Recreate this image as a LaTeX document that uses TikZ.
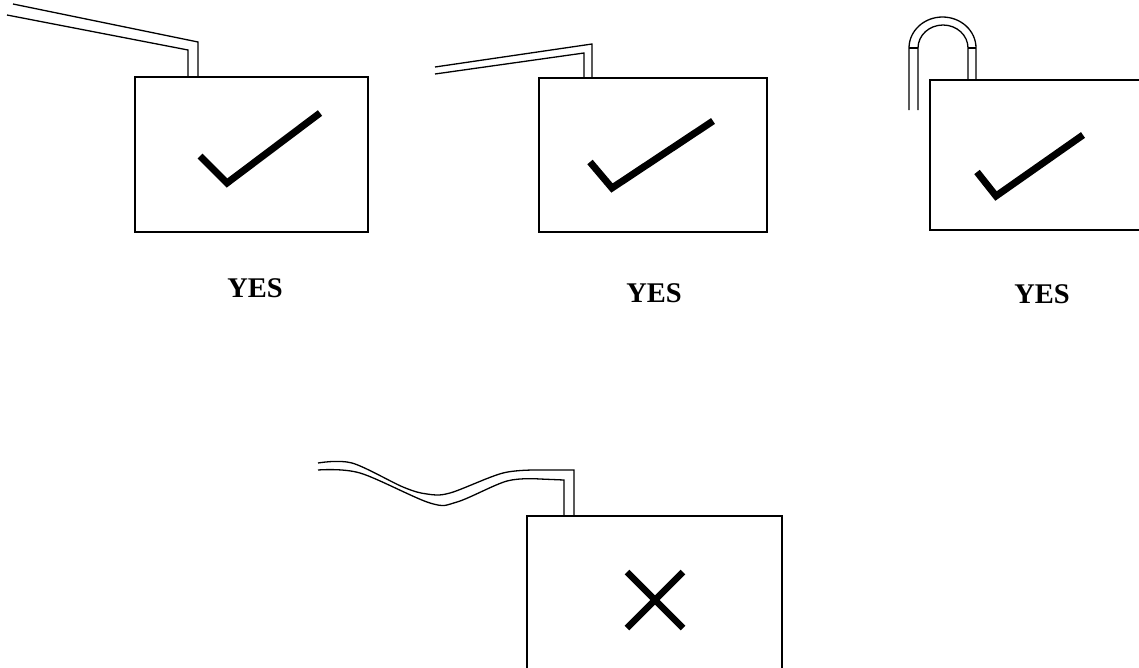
\documentclass[tikz,border=0pt]{standalone}
\usepackage{fontspec}
\setmainfont{Liberation Serif}

\begin{document}
\begin{tikzpicture}[
  x=1pt,y=-1pt,
  frame/.style={line width=1.8pt},
  pipe/.style={line width=1.3pt,line join=miter},
  tick/.style={line width=7pt,line join=miter},
  verdict/.style={font=\fontsize{28.5}{30}\selectfont\bfseries,anchor=base},
]
  \useasboundingbox (0,0) rectangle (1139,667);
  \clip (0,0) rectangle (1139,667);
  % first: straight bend
  \draw[frame] (135,77) rectangle (368,232);
  \draw[pipe] (13,4) -- (198,42) -- (198,77);
  \draw[pipe] (7,15) -- (188,50) -- (188,77);
  \draw[tick] (200,156) -- (227,183) -- (320,113);
  \node[verdict] (yes1) at (255,297) {YES};
  % second: flatter bend
  \draw[frame] (539,78) rectangle (767,232);
  \draw[pipe] (435,67) -- (592,44) -- (592,78);
  \draw[pipe] (435,74) -- (584,53) -- (584,78);
  \draw[tick] (590,162) -- (612,188) -- (713,121);
  \node[verdict] (yes2) at (654,302) {YES};
  % third: loop over the top
  \draw[frame] (1145,80) -- (930,80) -- (930,230) -- (1145,230);
  \draw[pipe] (909,110) -- (909,48) arc[start angle=180,end angle=0,x radius=33.5,y radius=-31] -- (976,80);
  \draw[pipe] (918,110) -- (918,48) arc[start angle=180,end angle=0,x radius=25,y radius=-23] -- (968,80);
  \draw[pipe] (909,48) -- (918,48) (968,48) -- (976,48);
  \draw[tick] (977,172) -- (996,196) -- (1083,135);
  \node[verdict] (yes3) at (1042,303) {YES};
  % fourth: wavy lead
  \draw[frame] (527,670) -- (527,516) -- (782,516) -- (782,670);
  \draw[pipe] plot[smooth,tension=0.55] coordinates {(318,463) (352,463) (403,487) (427,494) (450,493) (503,473) (540,470)} -- (574,470) -- (574,516);
  \draw[pipe] plot[smooth,tension=0.55] coordinates {(318,470) (360,473) (430,503) (457,502) (507,481) (540,479)} -- (564,480) -- (564,516);
  \draw[tick,line width=6.5pt] (627,572) -- (683,628) (683,572) -- (627,628);
\end{tikzpicture}
\end{document}
